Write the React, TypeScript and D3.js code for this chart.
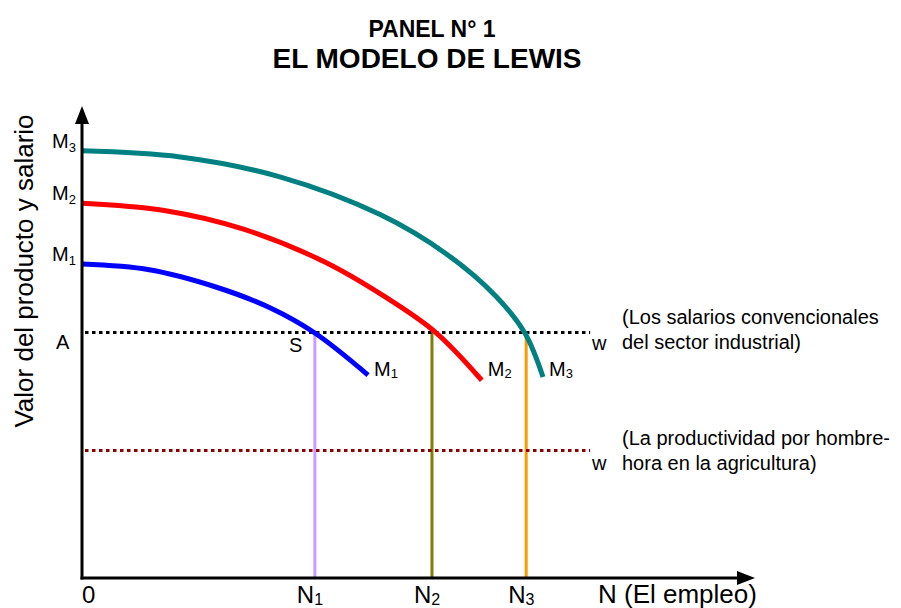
import React from "react";
import * as d3 from "d3";

// ---- data (x: employment units 0-100, y: value units 0-100) ----
const curveM1: [number, number][] = [
  [0, 66.5], [10, 65.3], [20, 61.6], [28, 57.2], [34.6, 51.9], [42.5, 43.0],
];
const curveM2: [number, number][] = [
  [0, 79.4], [12, 77.9], [24, 73.9], [36, 67.0], [45, 59.6], [52.5, 52.1], [59.4, 41.9],
];
const curveM3: [number, number][] = [
  [0, 90.5], [14.6, 89.2], [29.4, 85.0], [44.3, 77.0], [54.2, 68.6], [61.5, 59.7], [65.8, 51.9], [68.5, 42.6],
];
const wageLevel = 52;
const agriLevel = 27;
const wageLineEnd = 75.5;
const employmentLevels = [34.6, 52.0, 66.0];
const employmentLabels = ["1", "2", "3"];
const curveEndLabels = ["1", "2", "3"];
const yTickLabels = [
  { main: "M", sub: "3", value: 90.5 },
  { main: "M", sub: "2", value: 79.4 },
  { main: "M", sub: "1", value: 66.5 },
  { main: "A", sub: "", value: wageLevel },
];

const W = 901;
const H = 608;
const x = d3.scaleLinear().domain([0, 100]).range([82, 755]);
const y = d3.scaleLinear().domain([0, 100]).range([578, 106]);

const line = d3
  .line<[number, number]>()
  .x((d) => x(d[0]))
  .y((d) => y(d[1]))
  .curve(d3.curveCatmullRom.alpha(0.5));

const curves = [
  { data: curveM1, color: "#0000ff" },
  { data: curveM2, color: "#ff0000" },
  { data: curveM3, color: "#008080" },
];
const vColors = ["#cc99ff", "#808000", "#ff9900"];
const font = "Arial, 'Liberation Sans', Helvetica, sans-serif";

export default function App() {
  const ax0 = x(0);
  const ay0 = y(0);
  return (
    <svg
      width={W}
      height={H}
      style={{ position: "fixed", left: 0, top: 0, background: "#fff" }}
      fontFamily={font}
    >
      <rect width={W} height={H} fill="#fff" />
      {/* title */}
      <text x={432} y={37} fontSize={23} fontWeight="bold" textAnchor="middle">
        PANEL N° 1
      </text>
      <text x={427} y={68} fontSize={28} fontWeight="bold" textAnchor="middle">
        EL MODELO DE LEWIS
      </text>

      {/* y label */}
      <text
        transform={`translate(33,271) rotate(-90)`}
        fontSize={26}
        textAnchor="middle"
      >
        Valor del producto y salario
      </text>

      {/* vertical employment lines */}
      {employmentLevels.map((n, i) => (
        <line
          key={i}
          x1={x(n)}
          x2={x(n)}
          y1={y(wageLevel)}
          y2={ay0}
          stroke={vColors[i]}
          strokeWidth={3}
        />
      ))}

      {/* dotted wage lines */}
      <line
        x1={ax0 + 3}
        x2={x(wageLineEnd)}
        y1={y(wageLevel)}
        y2={y(wageLevel)}
        stroke="#000"
        strokeWidth={3}
        strokeDasharray="3.5 3.5"
      />
      <line
        x1={ax0 + 3}
        x2={x(wageLineEnd)}
        y1={y(agriLevel)}
        y2={y(agriLevel)}
        stroke="#8b0000"
        strokeWidth={3}
        strokeDasharray="3.5 3.5"
      />

      {/* curves */}
      {curves.map((c, i) => (
        <path key={i} d={line(c.data) || ""} fill="none" stroke={c.color} strokeWidth={5} />
      ))}

      {/* axes */}
      <line x1={ax0} x2={ax0} y1={ay0 + 1.5} y2={y(100) + 14} stroke="#000" strokeWidth={3} />
      <path d={`M${ax0},${y(100)} L${ax0 - 7},${y(100) + 18} L${ax0 + 7},${y(100) + 18} Z`} fill="#000" />
      <line x1={ax0 - 1.5} x2={x(100) - 14} y1={ay0} y2={ay0} stroke="#000" strokeWidth={3} />
      <path d={`M${x(100)},${ay0} L${x(100) - 18},${ay0 - 7} L${x(100) - 18},${ay0 + 7} Z`} fill="#000" />

      {/* y tick labels */}
      {yTickLabels.map((t, i) => (
        <text key={i} x={t.sub ? 52 : 56} y={y(t.value) + (t.sub ? -3 : 16)} fontSize={20}>
          {t.main}
          {t.sub && (
            <tspan fontSize={13} dy={4}>
              {t.sub}
            </tspan>
          )}
        </text>
      ))}

      {/* S label */}
      <text x={289} y={352} fontSize={20}>S</text>

      {/* curve end labels */}
      {curves.map((c, i) => {
        const last = c.data[c.data.length - 1];
        return (
          <text key={i} x={x(last[0]) + 6} y={376} fontSize={20}>
            M<tspan fontSize={13} dy={2}>{curveEndLabels[i]}</tspan>
          </text>
        );
      })}

      {/* w labels and annotations */}
      <text x={592} y={350} fontSize={20}>w</text>
      <text x={592} y={470} fontSize={20}>w</text>
      <text x={622} y={324} fontSize={20}>(Los salarios convencionales</text>
      <text x={622} y={349} fontSize={20}>del sector industrial)</text>
      <text x={622} y={445} fontSize={20}>(La productividad por hombre-</text>
      <text x={622} y={470} fontSize={20}>hora en la agricultura)</text>

      {/* x labels */}
      <text x={82} y={603} fontSize={24}>0</text>
      {employmentLevels.map((n, i) => (
        <text key={i} x={x(n) - 18} y={603} fontSize={24}>
          N<tspan fontSize={16} dy={2}>{employmentLabels[i]}</tspan>
        </text>
      ))}
      <text x={598} y={603} fontSize={26}>N (El empleo)</text>
    </svg>
  );
}
